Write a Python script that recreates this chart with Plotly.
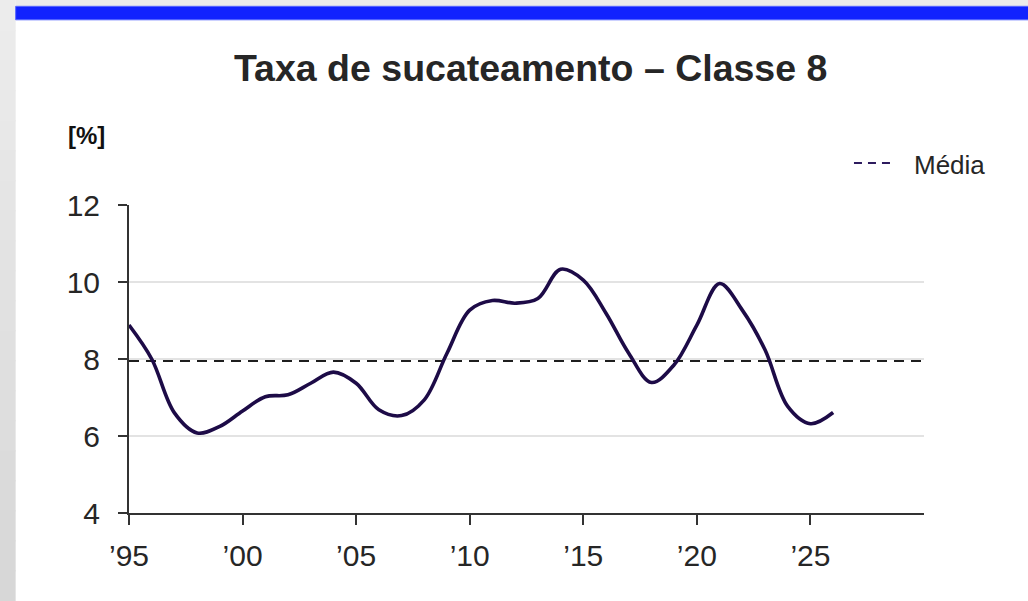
import plotly.graph_objects as go

# ---- data ----
years = list(range(1995, 2027))
values = [8.88, 8.0, 6.6, 6.08, 6.25, 6.65, 7.02, 7.07, 7.37, 7.66, 7.37, 6.68,
          6.53, 6.94, 8.15, 9.27, 9.52, 9.45, 9.57, 10.33, 10.05, 9.19, 8.15,
          7.39, 7.85, 8.88, 9.96, 9.27, 8.24, 6.77, 6.32, 6.61]
mean_value = 7.95
x_ticks = [1995, 2000, 2005, 2010, 2015, 2020, 2025]
x_ticklabels = ["\u201995", "\u201900", "\u201905", "\u201910", "\u201915", "\u201920", "\u201925"]
y_ticks = [4, 6, 8, 10, 12]
title_text = "Taxa de sucateamento \u2013 Classe 8"
unit_text = "[%]"
legend_text = "Média"

W, H = 1028, 601
L, R, T, B = 129.3, 104, 205, 87.5
PW, PH = W - L - R, H - T - B


def px(X):
    return (X - L) / PW


def py(Y):
    return (H - B - Y) / PH


fig = go.Figure()

fig.add_trace(go.Scatter(
    x=[x_ticks[0], 2030], y=[mean_value, mean_value], mode="lines",
    line=dict(color="#1e1e1e", width=2, dash="10px,7px"),
    showlegend=False, hoverinfo="skip"))

fig.add_trace(go.Scatter(
    x=years, y=values, mode="lines",
    line=dict(color="#1d0b47", width=3.6, shape="spline", smoothing=1),
    showlegend=False))

shapes = []
# left gray strip (vertical gradient via bands)
n = 20
c0, c1 = (236, 236, 236), (215, 215, 215)
for i in range(n):
    t = i / (n - 1)
    col = tuple(int(round(c0[k] + (c1[k] - c0[k]) * t)) for k in range(3))
    shapes.append(dict(type="rect", xref="paper", yref="paper",
                       x0=px(-2), x1=px(16), y0=py(H * (i + 1) / n + 1), y1=py(H * i / n - (2 if i == 0 else 0)),
                       fillcolor="rgb(%d,%d,%d)" % col, line=dict(width=0), layer="below"))
# top gray strip
shapes.append(dict(type="rect", xref="paper", yref="paper",
                   x0=px(16), x1=px(W + 2), y0=py(6), y1=py(-2),
                   fillcolor="#ebebeb", line=dict(width=0), layer="below"))
# blue bar
shapes.append(dict(type="rect", xref="paper", yref="paper",
                   x0=px(16), x1=px(W + 2), y0=py(19.5), y1=py(6),
                   fillcolor="#1122fe", line=dict(width=1, color="#5565ff"), layer="below"))
# legend dash sample
shapes.append(dict(type="line", xref="paper", yref="paper",
                   x0=px(854), x1=px(890), y0=py(163), y1=py(163),
                   line=dict(color="#2d1b5e", width=2, dash="8px,6px")))

annotations = [
    dict(text="<b>%s</b>" % title_text, xref="paper", yref="paper",
         x=px(531), y=py(67.5), xanchor="center", yanchor="middle", showarrow=False,
         font=dict(family="Liberation Sans, Arial", size=37.5, color="#262626")),
    dict(text="<b>%s</b>" % unit_text, xref="paper", yref="paper",
         x=px(66), y=py(135), xanchor="left", yanchor="middle", showarrow=False,
         font=dict(family="Liberation Sans, Arial", size=24, color="#111111")),
    dict(text=legend_text, xref="paper", yref="paper",
         x=px(912), y=py(164.5), xanchor="left", yanchor="middle", showarrow=False,
         font=dict(family="Liberation Sans, Arial", size=26, color="#262626")),
]

fig.update_layout(
    width=W, height=H,
    margin=dict(l=L, r=R, t=T, b=B, pad=0),
    paper_bgcolor="white", plot_bgcolor="white",
    font=dict(family="Liberation Sans, Arial", color="#262626"),
    shapes=shapes, annotations=annotations,
    xaxis=dict(range=[1995, 2030], tickvals=x_ticks, ticktext=x_ticklabels,
               showgrid=False, zeroline=False, showline=True, linecolor="#333333",
               linewidth=2, ticks="outside", ticklen=10, tickwidth=2, tickcolor="#333333",
               tickfont=dict(size=30, color="#262626"), ticklabelstandoff=5),
    yaxis=dict(range=[4, 12], tickvals=y_ticks, showgrid=True, gridcolor="#e3e3e3",
               gridwidth=1.5, zeroline=False, showline=True, linecolor="#333333",
               linewidth=2, ticks="outside", ticklen=9, tickwidth=2, tickcolor="#333333",
               tickfont=dict(size=30, color="#262626"), ticklabelstandoff=12),
)

fig.write_html("out.html", config={"displayModeBar": False},
               post_script="document.body.style.margin='0';document.body.style.overflow='hidden';")
